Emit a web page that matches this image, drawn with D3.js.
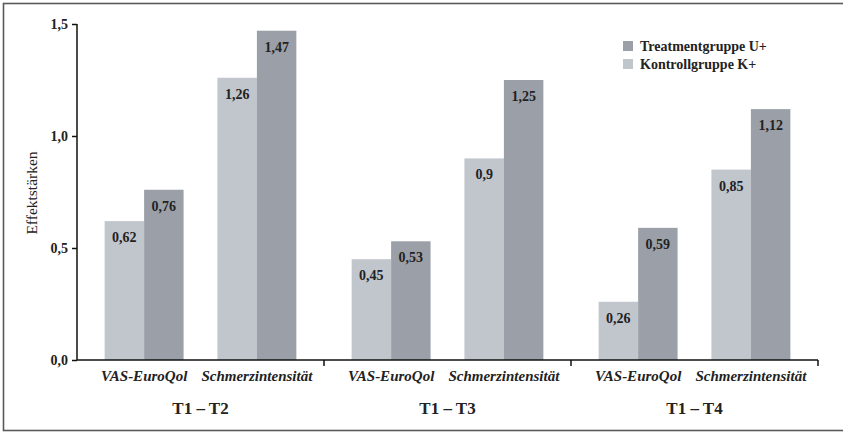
<!DOCTYPE html>
<html>
<head>
<meta charset="utf-8">
<script src="https://cdn.jsdelivr.net/npm/d3@7"></script>
<style>
  html, body { margin: 0; padding: 0; background: #fff; }
  svg { display: block; }
</style>
</head>
<body>
<svg id="chart" width="843" height="432"></svg>
<script>
// Effect sizes per time span and measure
const groups = ["T1 – T2", "T1 – T3", "T1 – T4"];
const measures = ["VAS-EuroQol", "Schmerzintensität"];
const seriesNames = ["Kontrollgruppe K+", "Treatmentgruppe U+"];
const kontrollValues = [0.62, 1.26, 0.45, 0.90, 0.26, 0.85];
const treatmentValues = [0.76, 1.47, 0.53, 1.25, 0.59, 1.12];
const kontrollLabels = ["0,62", "1,26", "0,45", "0,9", "0,26", "0,85"];
const treatmentLabels = ["0,76", "1,47", "0,53", "1,25", "0,59", "1,12"];
const yTicks = [0, 0.5, 1.0, 1.5];
const yTickLabels = ["0,0", "0,5", "1,0", "1,5"];
const yTitle = "Effektstärken";

const colors = { "Kontrollgruppe K+": "#c1c5cc", "Treatmentgruppe U+": "#9ba0a8" };
const serif = "'Liberation Serif', 'Times New Roman', serif";

const svg = d3.select("#chart");

// outer frame
svg.append("rect")
  .attr("x", 3.5).attr("y", 3.5)
  .attr("width", 850).attr("height", 427)
  .attr("fill", "none").attr("stroke", "#5a5a5a").attr("stroke-width", 1.6);

const x0 = 77, x1 = 818, yBase = 360, yTop = 24;

const y = d3.scaleLinear().domain([0, 1.5]).range([yBase, yTop]);
const gx = d3.scaleBand().domain(groups).range([x0, x1]).padding(0);
const mx = d3.scaleBand().domain(measures).range([0, gx.bandwidth()])
  .paddingInner(0.30).paddingOuter(0.245);
const sx = d3.scaleBand().domain(seriesNames).range([0, mx.bandwidth()]).padding(0);

// flatten data rows
const rows = [];
groups.forEach((g, gi) => {
  measures.forEach((m, mi) => {
    const i = gi * measures.length + mi;
    rows.push({ g, m, s: seriesNames[0], v: kontrollValues[i], label: kontrollLabels[i] });
    rows.push({ g, m, s: seriesNames[1], v: treatmentValues[i], label: treatmentLabels[i] });
  });
});

const barX = d => gx(d.g) + mx(d.m) + sx(d.s);

// bars
svg.append("g").selectAll("rect").data(rows).join("rect")
  .attr("x", d => barX(d))
  .attr("y", d => y(d.v))
  .attr("width", sx.bandwidth())
  .attr("height", d => y(0) - y(d.v))
  .attr("fill", d => colors[d.s]);

// value labels inside bars
svg.append("g").selectAll("text").data(rows).join("text")
  .attr("x", d => barX(d) + sx.bandwidth() / 2)
  .attr("y", d => y(d.v) + 21)
  .attr("text-anchor", "middle")
  .attr("font-family", serif).attr("font-weight", "bold").attr("font-size", 14)
  .attr("fill", "#222")
  .text(d => d.label);

// y axis
const yAxis = d3.axisLeft(y).tickValues(yTicks)
  .tickFormat((d, i) => yTickLabels[i]).tickSize(5).tickPadding(4);
const yg = svg.append("g").attr("transform", `translate(${x0},0)`).call(yAxis);
yg.select(".domain").attr("stroke", "#111").attr("stroke-width", 1.5)
  .attr("d", `M0,${yBase}V${yTop}`);
yg.selectAll(".tick line").attr("stroke", "#111").attr("stroke-width", 1.5);
yg.selectAll(".tick text")
  .attr("font-family", serif).attr("font-weight", "bold").attr("font-size", 14)
  .attr("fill", "#222");

// x axis with group separators
const xg = svg.append("g");
xg.append("line")
  .attr("x1", x0).attr("x2", x1).attr("y1", yBase).attr("y2", yBase)
  .attr("stroke", "#111").attr("stroke-width", 1.5);
xg.selectAll("line.sep").data(groups).join("line").attr("class", "sep")
  .attr("x1", d => gx(d) + gx.bandwidth()).attr("x2", d => gx(d) + gx.bandwidth())
  .attr("y1", yBase).attr("y2", yBase + 6)
  .attr("stroke", "#111").attr("stroke-width", 1.5);

// measure labels
const measureRows = [];
groups.forEach(g => measures.forEach(m => measureRows.push({ g, m })));
svg.append("g").selectAll("text").data(measureRows).join("text")
  .attr("x", d => gx(d.g) + mx(d.m) + mx.bandwidth() / 2)
  .attr("y", 381)
  .attr("text-anchor", "middle")
  .attr("font-family", serif).attr("font-weight", "bold").attr("font-style", "italic")
  .attr("font-size", 15).attr("fill", "#222")
  .text(d => d.m);

// group labels
svg.append("g").selectAll("text").data(groups).join("text")
  .attr("x", d => gx(d) + gx.bandwidth() / 2)
  .attr("y", 414)
  .attr("text-anchor", "middle")
  .attr("font-family", serif).attr("font-weight", "bold")
  .attr("font-size", 17).attr("fill", "#222")
  .text(d => d);

// y axis title
svg.append("text")
  .attr("transform", "translate(37,193) rotate(-90)")
  .attr("text-anchor", "middle")
  .attr("font-family", serif).attr("font-size", 15.5).attr("fill", "#222")
  .text(yTitle);

// legend (treatment first)
const legendItems = [seriesNames[1], seriesNames[0]];
const lg = svg.append("g").attr("transform", "translate(623,41)");
const li = lg.selectAll("g").data(legendItems).join("g")
  .attr("transform", (d, i) => `translate(0,${i * 18})`);
li.append("rect").attr("width", 10).attr("height", 10).attr("fill", d => colors[d]);
li.append("text")
  .attr("x", 17).attr("y", 9.5)
  .attr("font-family", serif).attr("font-weight", "bold").attr("font-size", 14)
  .attr("fill", "#222")
  .text(d => d);
</script>
</body>
</html>
